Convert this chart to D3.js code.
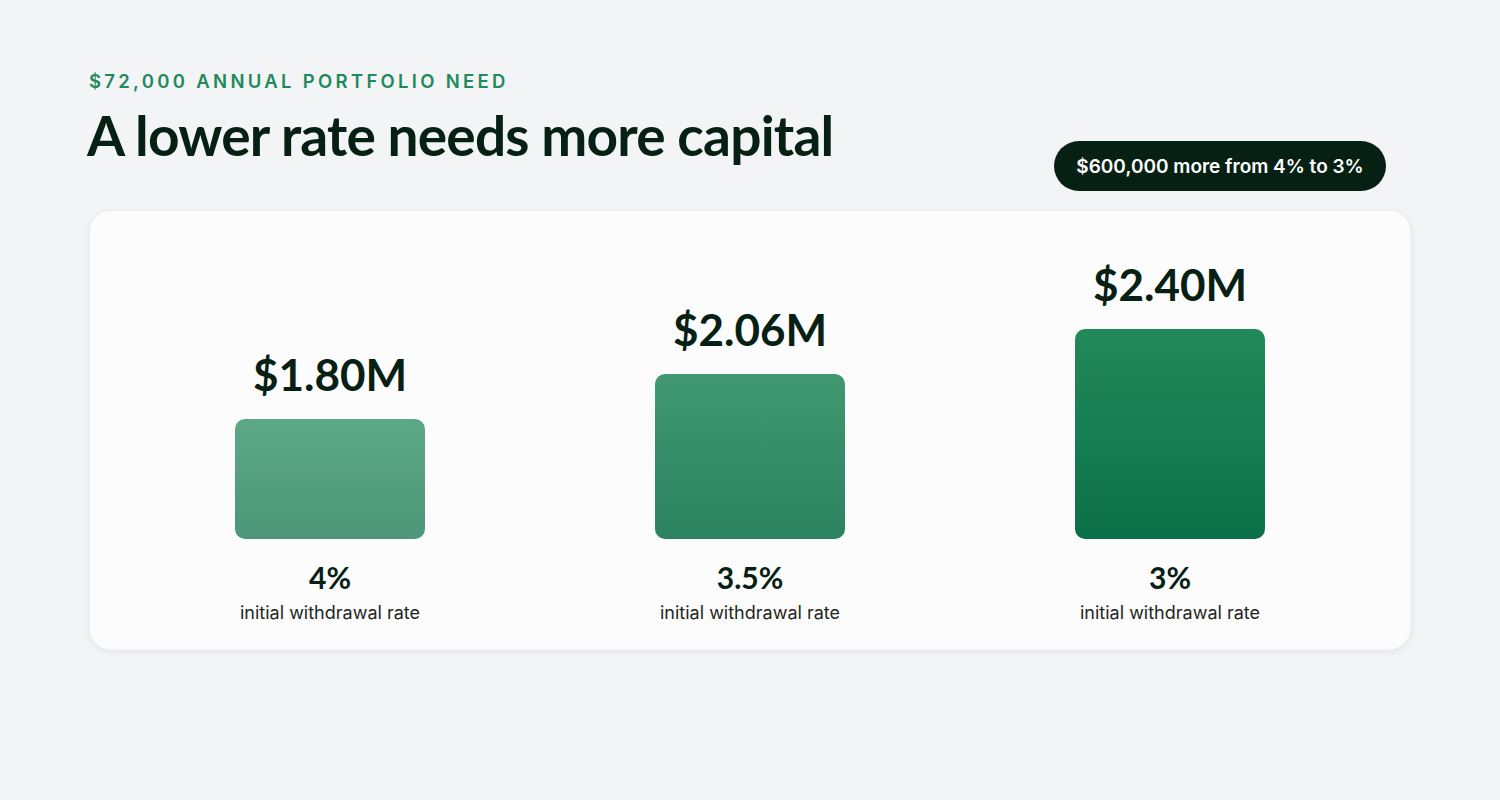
<!DOCTYPE html>
<html>
<head>
<meta charset="utf-8">
<script src="https://cdn.jsdelivr.net/npm/d3@7"></script>
<style>
  html, body { margin: 0; padding: 0; background: #f3f4f6; }
  svg { display: block; }
</style>
</head>
<body>
<svg id="chart" width="1500" height="800"></svg>
<script>
// data
var rates = ["4%", "3.5%", "3%"];
var rateValues = [4, 3.5, 3];
var capital = [1800000, 2057143, 2400000];
var valueLabels = ["$1.80M", "$2.06M", "$2.40M"];
var rateCaption = "initial withdrawal rate";
var kicker = "$72,000 ANNUAL PORTFOLIO NEED";
var title = "A lower rate needs more capital";
var pillText = "$600,000 more from 4% to 3%";

var svg = d3.select("#chart");
var ink = "#072014";
var green = "#1f8a5a";

var defs = svg.append("defs");

// card shadow
var shadow = defs.append("filter").attr("id", "cardShadow")
  .attr("x", "-5%").attr("y", "-5%").attr("width", "110%").attr("height", "115%");
shadow.append("feDropShadow")
  .attr("dx", 0).attr("dy", 2).attr("stdDeviation", 3)
  .attr("flood-color", "#000").attr("flood-opacity", 0.06);

// bar gradient
var grad = defs.append("linearGradient").attr("id", "barGrad")
  .attr("x1", 0).attr("y1", 0).attr("x2", 0).attr("y2", 1);
grad.append("stop").attr("offset", "0%").attr("stop-color", "#22895b");
grad.append("stop").attr("offset", "100%").attr("stop-color", "#0b7049");

// header
svg.append("text")
  .attr("x", 89).attr("y", 88)
  .attr("font-family", "Inter, sans-serif")
  .attr("font-weight", 600)
  .attr("font-size", 18.5)
  .attr("letter-spacing", 3.3)
  .attr("fill", green)
  .text(kicker);

svg.append("text")
  .attr("x", 87).attr("y", 156)
  .attr("font-family", "Lato, sans-serif")
  .attr("font-weight", 700)
  .attr("font-size", 55)
  .attr("letter-spacing", -0.8)
  .attr("fill", ink)
  .text(title);

// pill
var pill = svg.append("g").attr("transform", "translate(1220,166)");
pill.append("rect")
  .attr("x", -166).attr("y", -25)
  .attr("width", 332).attr("height", 50)
  .attr("rx", 25)
  .attr("fill", ink);
pill.append("text")
  .attr("text-anchor", "middle")
  .attr("y", 7)
  .attr("font-family", "Inter, sans-serif")
  .attr("font-weight", 600)
  .attr("font-size", 19)
  .attr("fill", "#ffffff")
  .text(pillText);

// card
svg.append("rect")
  .attr("x", 89).attr("y", 210)
  .attr("width", 1322).attr("height", 440)
  .attr("rx", 22)
  .attr("fill", "#fcfcfc")
  .attr("stroke", "#e7e8ea")
  .attr("stroke-width", 1)
  .attr("filter", "url(#cardShadow)");

// scales
var x = d3.scaleBand().domain(rates).range([120, 1380]).padding(0);
var barWidth = 190;
var baseY = 539;
// bar height steps with the withdrawal rate
var h = d3.scaleLinear().domain([4, 3]).range([120, 210]);
var opacity = d3.scaleLinear().domain([4, 3]).range([0.73, 1]);

var cols = svg.append("g").attr("class", "columns")
  .selectAll("g")
  .data(rates.map(function (r, i) {
    return { rate: r, rv: rateValues[i], value: capital[i], label: valueLabels[i] };
  }))
  .enter()
  .append("g")
  .attr("transform", function (d) { return "translate(" + (x(d.rate) + x.bandwidth() / 2) + ",0)"; });

cols.append("rect")
  .attr("x", -barWidth / 2)
  .attr("y", function (d) { return baseY - h(d.rv); })
  .attr("width", barWidth)
  .attr("height", function (d) { return h(d.rv); })
  .attr("rx", 10)
  .attr("fill", "url(#barGrad)")
  .attr("fill-opacity", function (d) { return opacity(d.rv); });

cols.append("text")
  .attr("text-anchor", "middle")
  .attr("y", function (d) { return baseY - h(d.rv) - 28; })
  .attr("font-family", "Lato, sans-serif")
  .attr("font-weight", 700)
  .attr("font-size", 44)
  .attr("fill", ink)
  .text(function (d) { return d.label; });

cols.append("text")
  .attr("text-anchor", "middle")
  .attr("y", 589)
  .attr("font-family", "Lato, sans-serif")
  .attr("font-weight", 700)
  .attr("font-size", 30)
  .attr("fill", ink)
  .text(function (d) { return d.rate; });

cols.append("text")
  .attr("text-anchor", "middle")
  .attr("y", 619)
  .attr("font-family", "Inter, sans-serif")
  .attr("font-size", 18)
  .attr("fill", "#1e2722")
  .text(rateCaption);
</script>
</body>
</html>
